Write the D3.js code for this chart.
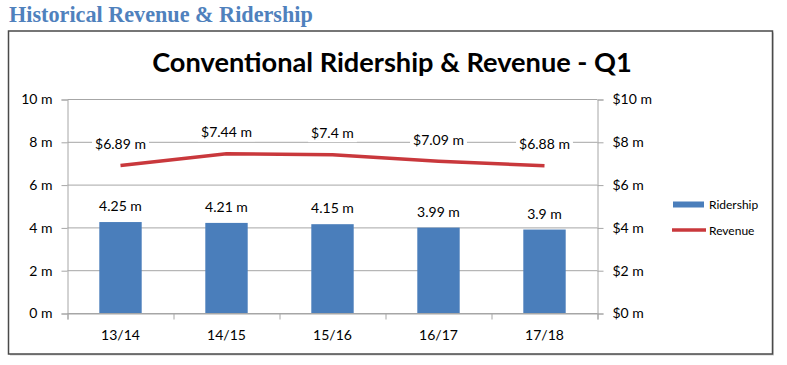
<!DOCTYPE html>
<html><head><meta charset="utf-8">
<script src="https://cdn.jsdelivr.net/npm/d3@7"></script>
<style>body{margin:0;background:#fff;} svg{display:block;}</style>
</head><body>
<svg id="c" width="787" height="365"></svg>
<script>
const categories = ["13/14","14/15","15/16","16/17","17/18"];
const ridership = [4.25, 4.21, 4.15, 3.99, 3.9];
const revenue = [6.89, 7.44, 7.4, 7.09, 6.88];
const ridershipLabels = ["4.25 m","4.21 m","4.15 m","3.99 m","3.9 m"];
const revenueLabels = ["$6.89 m","$7.44 m","$7.4 m","$7.09 m","$6.88 m"];
const leftTicks = [0,2,4,6,8,10];
const pageTitle = "Historical Revenue & Ridership";
const chartTitle = "Conventional Ridership & Revenue - Q1";

const svg = d3.select("#c");
const font = "Lato, 'Liberation Sans', sans-serif";
const grid = "#a6a6a6";
const barColor = "#4a7ebb";
const lineColor = "#c9383c";

function fitText(sel, w){
  const n = sel.node(); const L = n.getComputedTextLength();
  const fs = parseFloat(sel.attr("font-size"));
  sel.attr("font-size", fs * w / L);
}

// page title
const pt = svg.append("text").attr("x",9).attr("y",22).text(pageTitle)
  .attr("font-family","'Liberation Serif', serif").attr("font-weight","bold")
  .attr("font-size",22).attr("fill","#4f81bd");
fitText(pt, 304);

// box
svg.append("rect").attr("x",10).attr("y",32.5).attr("width",764).attr("height",323).attr("fill","#d0d0d0");
svg.append("rect").attr("x",8.5).attr("y",31).attr("width",764).attr("height",323)
  .attr("fill","#fff").attr("stroke","#4a4a4a").attr("stroke-width",1.5);

// chart title
const ct = svg.append("text").attr("x",392).attr("y",72).attr("text-anchor","middle").text(chartTitle)
  .attr("font-family",font).attr("font-weight","bold").attr("font-size",26).attr("fill","#000");
fitText(ct, 480);

const x0 = 67.5, x1 = 597.5, yB = 313, yT = 99;
const x = d3.scaleBand().domain(categories).range([x0,x1]).paddingInner(0).paddingOuter(0);
const y = d3.scaleLinear().domain([0,10]).range([yB,yT]);

// gridlines
svg.append("g").selectAll("line").data(leftTicks).join("line")
  .attr("x1",x0).attr("x2",x1).attr("y1",d=>y(d)+0.5).attr("y2",d=>y(d)+0.5)
  .attr("stroke",grid).attr("stroke-width",1);

// left axis
const la = svg.append("g").attr("transform",`translate(${x0},0.5)`)
  .call(d3.axisLeft(y).tickValues(leftTicks).tickSize(6).tickPadding(9).tickFormat(d=>d+" m"));
// right axis
const ra = svg.append("g").attr("transform",`translate(${x1},0.5)`)
  .call(d3.axisRight(y).tickValues(leftTicks).tickSize(6).tickPadding(9).tickFormat(d=>"$"+d+" m"));
// bottom axis
const xb = d3.scaleLinear().domain([0,categories.length]).range([x0,x1]);
const ba = svg.append("g").attr("transform",`translate(0,${yB+0.5})`)
  .call(d3.axisBottom(xb).tickValues(d3.range(categories.length+1)).tickSize(6).tickFormat(""));
svg.append("g").selectAll("text").data(categories).join("text")
  .attr("x",d=>x(d)+x.bandwidth()/2).attr("y",340).attr("text-anchor","middle")
  .attr("font-family",font).attr("font-size",14).attr("fill","#000").text(d=>d);

[la,ra,ba].forEach(a=>{
  a.select(".domain").attr("stroke",grid);
  a.selectAll(".tick line").attr("stroke",grid);
  a.selectAll(".tick text").attr("font-family",font).attr("font-size",14).attr("fill","#000");
});

// bars
const bw = x.bandwidth()*0.4;
svg.append("g").selectAll("rect").data(ridership).join("rect")
  .attr("x",(d,i)=>x(categories[i])+x.bandwidth()/2-bw/2).attr("width",bw)
  .attr("y",d=>y(d)).attr("height",d=>yB-y(d)).attr("fill",barColor);

// line
const line = d3.line().x((d,i)=>x(categories[i])+x.bandwidth()/2).y(d=>y(d));
svg.append("path").datum(revenue).attr("d",line).attr("fill","none")
  .attr("stroke",lineColor).attr("stroke-width",3.5).attr("stroke-linejoin","round");

// labels with white backgrounds
function labels(vals, texts, dy){
  const g = svg.append("g");
  vals.forEach((v,i)=>{
    const cx = x(categories[i])+x.bandwidth()/2, cy = y(v)-dy;
    const t = g.append("text").attr("x",cx).attr("y",cy+5).attr("text-anchor","middle")
      .attr("font-family",font).attr("font-size",14).attr("fill","#000").text(texts[i]);
    const bb = t.node().getBBox();
    g.insert("rect","text").attr("x",bb.x-3).attr("y",bb.y-1).attr("width",bb.width+6).attr("height",bb.height+2).attr("fill","#fff");
  });
}
labels(ridership, ridershipLabels, 16);
labels(revenue, revenueLabels, 21.5);

// legend
svg.append("rect").attr("x",673).attr("y",201.5).attr("width",31).attr("height",6).attr("fill",barColor);
svg.append("text").attr("x",709).attr("y",209).attr("font-family",font).attr("font-size",12).text("Ridership");
svg.append("line").attr("x1",672).attr("x2",706).attr("y1",230).attr("y2",230).attr("stroke",lineColor).attr("stroke-width",3.5);
svg.append("text").attr("x",709).attr("y",234.5).attr("font-family",font).attr("font-size",12).text("Revenue");
</script>
</body></html>
